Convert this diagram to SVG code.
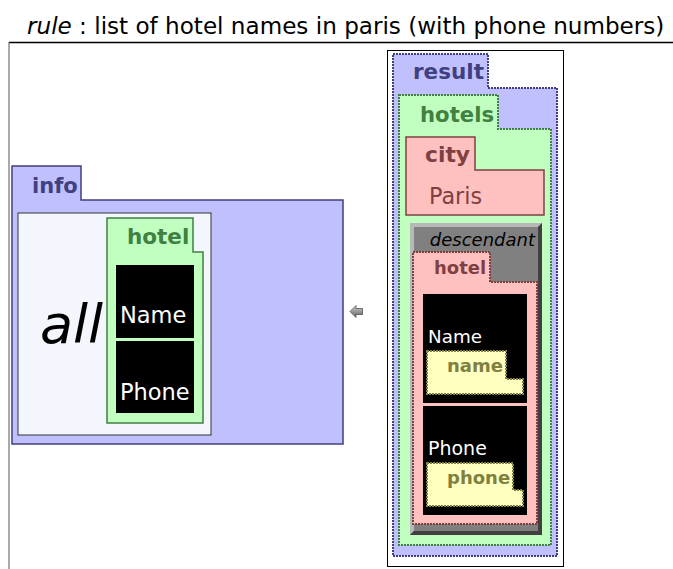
<svg xmlns="http://www.w3.org/2000/svg" width="673" height="569" viewBox="0 0 673 569">
<style>
text{font-family:"DejaVu Sans",Verdana,sans-serif}
.b{font-weight:bold}
.blue{fill:#c0c0ff;stroke:#404080}
.green{fill:#c0ffc0;stroke:#408040}
.pink{fill:#ffc0c0;stroke:#804040}
.yellow{fill:#ffffc0;stroke:#808040}
.dot{stroke-width:2;stroke-dasharray:2 1}
.solid{stroke-width:1.5}
.tb{fill:#404080}
.tg{fill:#408040}
.tr{fill:#804040}
.ty{fill:#808040}
.w{fill:#ffffff}
</style>
<defs>
<linearGradient id="ag" x1="0" y1="0" x2="0" y2="1">
<stop offset="0" stop-color="#d0d0d0"/>
<stop offset="1" stop-color="#606060"/>
</linearGradient>
</defs>
<rect width="673" height="569" fill="#ffffff"/>
<g id="title">
<text x="27" y="34" font-size="23.1"><tspan font-style="italic">rule</tspan> : list of hotel names in paris (with phone numbers)</text>
<line x1="9" y1="42.5" x2="673" y2="42.5" stroke="#000" stroke-width="1.5"/>
<line x1="9" y1="42" x2="9" y2="569" stroke="#555" stroke-width="1"/>
</g>
<g id="info">
<path class="blue solid" d="M12,166 H81 V200 H343 V444 H12 Z"/>
<text class="b tb" x="32" y="193" font-size="21">info</text>
</g>
<g id="all">
<rect x="18" y="213" width="193" height="222" fill="#f4f6fd" stroke="#333" stroke-width="1"/>
<text x="40" y="343" font-size="54" font-style="italic">all</text>
</g>
<g id="hotel-left">
<path class="green solid" d="M107,218 H193 V252 H203 V423 H107 Z"/>
<text class="b tg" x="127" y="244" font-size="21.5">hotel</text>
</g>
<g id="name-left">
<rect x="116" y="265" width="78" height="73" fill="#000"/>
<text class="w" x="120" y="323" font-size="22.5">Name</text>
</g>
<g id="phone-left">
<rect x="116" y="341" width="78" height="72" fill="#000"/>
<text class="w" x="120" y="400" font-size="22.5">Phone</text>
</g>
<g id="connectors">
<path d="M350,311.5 L356,305.5 V308.5 H362.5 V314.5 H356 V317.5 Z" fill="url(#ag)" stroke="#505050" stroke-width="0.8"/>
</g>
<g id="frame">
<rect x="387.5" y="50.5" width="176" height="516" fill="#ffffff" stroke="#000" stroke-width="1"/>
</g>
<g id="result">
<path class="blue dot" d="M393,54 H488 V88 H557 V556 H393 Z"/>
<text class="b tb" x="413" y="79" font-size="21.5">result</text>
</g>
<g id="hotels">
<path class="green dot" d="M399,95 H498 V129 H551 V545 H399 Z"/>
<text class="b tg" x="420" y="122" font-size="21.2">hotels</text>
</g>
<g id="city">
<path class="pink solid" d="M406,137 H475 V170 H544 V215 H406 Z"/>
<text class="b tr" x="425" y="162" font-size="21.8">city</text>
<text class="tr" x="429" y="204" font-size="22.3">Paris</text>
</g>
<g id="descendant">
<rect x="410" y="223" width="132" height="312" fill="#808080"/>
<path d="M410,223 H542 L538,227 H414 V531 L410,535 Z" fill="#b8b8b8"/>
<path d="M542,223 V535 H410 L414,531 H538 V227 Z" fill="#404040"/>
<text x="535" y="246" font-size="18" font-style="italic" text-anchor="end">descendant</text>
</g>
<g id="hotel-right">
<path class="pink dot" d="M413,252 H490 V282 H537 V524 H413 Z"/>
<text class="b tr" x="434" y="274" font-size="18">hotel</text>
</g>
<g id="name-right">
<rect x="423" y="294" width="104" height="109" fill="#000"/>
<text class="w" x="428" y="343" font-size="18.3">Name</text>
<path class="yellow dot" d="M427,351 H506 V379 H523 V394 H427 Z"/>
<text class="b ty" x="447" y="372" font-size="18">name</text>
</g>
<g id="phone-right">
<rect x="423" y="406" width="104" height="109" fill="#000"/>
<text class="w" x="428" y="455" font-size="19">Phone</text>
<path class="yellow dot" d="M427,463 H513 V490 H523 V506 H427 Z"/>
<text class="b ty" x="447" y="484" font-size="18">phone</text>
</g>
</svg>
